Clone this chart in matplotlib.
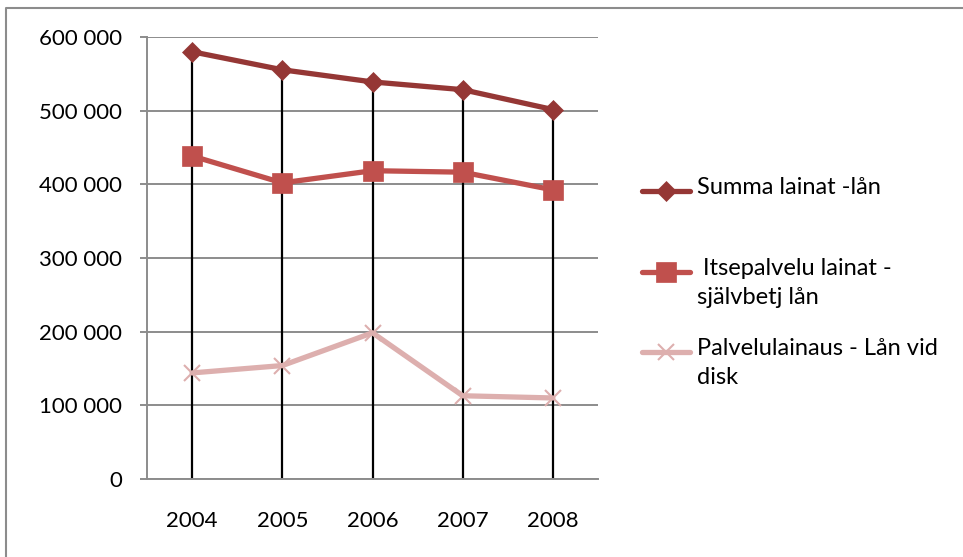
import numpy as np
import matplotlib.pyplot as plt
from matplotlib.lines import Line2D
from matplotlib.ticker import FuncFormatter

plt.rcParams['font.family'] = ['Lato', 'DejaVu Sans']

years = ["2004", "2005", "2006", "2007", "2008"]
summa = [580000, 555500, 539000, 528500, 501500]
itsepalvelu = [438500, 402000, 418500, 416500, 392500]
palvelu = [144000, 154000, 198500, 113000, 110000]

labels = ["Summa lainat -lån",
          " Itsepalvelu lainat -\nsjälvbetj lån",
          "Palvelulainaus - Lån vid\ndisk"]
colors = ["#953735", "#C0504D", "#DDAFAE"]
markers = ["D", "s", "x"]
msizes = [10, 14, 12]

W, H = 963, 557
fig = plt.figure(figsize=(W / 100, H / 100), dpi=100)
ax = fig.add_axes([147 / W, 1 - 479 / H, (598 - 147) / W, (479 - 37) / H])

x = np.arange(len(years))
series = [summa, itsepalvelu, palvelu]

# drop lines from highest point to axis
top = np.max(np.array(series), axis=0)
ax.vlines(x, 0, top, colors="black", linewidth=1.6, zorder=2)

for vals, c, m, ms in zip(series, colors, markers, msizes):
    ax.plot(x, vals, color=c, linewidth=3.8, marker=m, markersize=ms,
            markeredgewidth=1.5 if m == "x" else 0.5, markeredgecolor=c,
            solid_capstyle="round", zorder=3)

ax.set_xlim(-0.5, len(years) - 0.5)
ax.set_ylim(0, 600000)
ax.set_yticks(np.arange(0, 600001, 100000))
ax.yaxis.set_major_formatter(FuncFormatter(lambda v, p: f"{int(v):,}".replace(",", " ")))
ax.set_xticks(x)
ax.set_xticklabels(years)

ax.grid(axis="y", color="#8C8C8C", linewidth=1.4)
ax.set_axisbelow(True)
for s in ["top", "right"]:
    ax.spines[s].set_visible(False)
for s in ["left", "bottom"]:
    ax.spines[s].set_color("#8C8C8C")
    ax.spines[s].set_linewidth(1.4)
ax.tick_params(axis="y", length=5, width=1.4, color="#8C8C8C", pad=13, labelsize=16)
ax.tick_params(axis="x", length=0, pad=23, labelsize=16)

# legend drawn by hand so handles align with first text line
leg_y = [191, 272, 352]
for lab, c, m, ms, yy in zip(labels, colors, markers, msizes, leg_y):
    fy = 1 - yy / H
    fig.add_artist(Line2D([642 / W, 690 / W], [fy, fy], color=c, linewidth=3.8,
                          solid_capstyle="round", transform=fig.transFigure))
    fig.add_artist(Line2D([666 / W], [fy], color=c, marker=m, markersize=ms,
                          markeredgewidth=1.5 if m == "x" else 0.5, markeredgecolor=c,
                          linestyle="none", transform=fig.transFigure))
    fig.text(697 / W, 1 - (yy - 14) / H, lab, fontsize=17, va="top", ha="left",
             linespacing=1.5, transform=fig.transFigure)

# outer frame (top and left edges visible)
fig.add_artist(Line2D([5.5 / W, 5.5 / W, 1], [0, 1 - 7.5 / H, 1 - 7.5 / H],
                      color="#8C8C8C", linewidth=1.5, transform=fig.transFigure))

fig.savefig("out.png", dpi=100)
